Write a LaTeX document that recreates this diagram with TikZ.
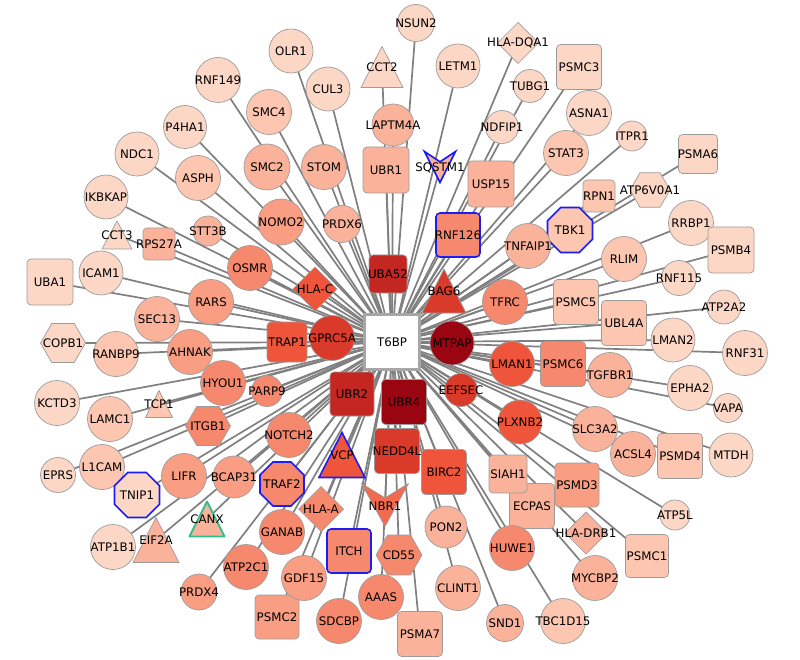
\documentclass[tikz,border=0pt]{standalone}
\usepackage{fontspec}
\setmainfont{DejaVu Sans}
\usetikzlibrary{shapes.geometric}
\definecolor{c1}{HTML}{FDD7C6}
\definecolor{c2}{HTML}{FCC6B0}
\definecolor{c3}{HTML}{FBB29A}
\definecolor{c4}{HTML}{F99E83}
\definecolor{c5}{HTML}{F6896D}
\definecolor{c6}{HTML}{F26A4F}
\definecolor{c7}{HTML}{EE553A}
\definecolor{c8}{HTML}{D93A29}
\definecolor{c9}{HTML}{C42621}
\definecolor{c10}{HTML}{990511}
\definecolor{bd}{HTML}{9C9C9C}
\definecolor{bluec}{HTML}{1C1CF5}
\definecolor{greenc}{HTML}{2EBE8A}
\definecolor{edgec}{HTML}{808080}
\pgfdeclarelayer{bg}
\pgfsetlayers{bg,main}
\newcommand\trishape[5]{\filldraw[#5] ({#1-#3/2},{#2+#4/2}) -- ({#1},{#2-#4/2}) -- ({#1+#3/2},{#2+#4/2}) -- cycle;}
\newcommand\veeshape[5]{\filldraw[#5] ({#1-#3/2},{#2-#4/2}) -- ({#1},{#2-#4/6}) -- ({#1+#3/2},{#2-#4/2}) -- ({#1},{#2+#4/2}) -- cycle;}
\begin{document}
\begin{tikzpicture}[x=1pt,y=-1pt,
  lbl/.style={font=\fontsize{11.8pt}{13pt}\selectfont, inner sep=0pt, text=black},
  base/.style={draw=bd, line width=0.7pt, inner sep=0pt, outer sep=0pt},
  circ/.style={base, circle, minimum size=#1},
  rsq/.style={base, rectangle, rounded corners=4pt, minimum size=#1},
  dia/.style={base, diamond, minimum size=#1},
  hexa/.style={base, regular polygon, regular polygon sides=6, minimum size=#1},
  octa/.style={base, regular polygon, regular polygon sides=8, minimum size=#1},
  blueb/.style={draw=bluec, line width=1.6pt},
  greenb/.style={draw=greenc, line width=1.8pt},
  shp/.style={draw=bd, line width=0.7pt, line join=round},
  edge/.style={draw=edgec, line width=1.7pt}
]
\path[use as bounding box] (0,0) rectangle (800,660);

% ---- outer ring, top ----
\node[circ=45, fill=c1, label={[lbl]center:RNF149}] (RNF149) at (218,80) {};
\node[circ=44, fill=c1, label={[lbl]center:OLR1}] (OLR1) at (291,51) {};
\node[circ=37, fill=c1, label={[lbl]center:NSUN2}] (NSUN2) at (416,23) {};
\node[circ=44, fill=c1, label={[lbl]center:LETM1}] (LETM1) at (458,66) {};
\node[dia=41, fill=c1, label={[lbl]center:HLA-DQA1}] (HLADQA1) at (518,43) {};
\node[rsq=45, fill=c1, label={[lbl]center:PSMC3}] (PSMC3) at (579,67) {};
\node[circ=44, fill=c1, label={[lbl]center:CUL3}] (CUL3) at (328,89) {};
\node[circ=33, fill=c1, label={[lbl]center:TUBG1}] (TUBG1) at (530,86) {};
\trishape{382}{67}{42}{41}{shp, fill=c1}
\node[lbl] (CCT2) at (382,67) {CCT2};
\node[circ=45, fill=c2, label={[lbl]center:SMC4}] (SMC4) at (269,112) {};
\node[circ=43, fill=c1, label={[lbl]center:P4HA1}] (P4HA1) at (185,127) {};
\node[circ=45, fill=c1, label={[lbl]center:ASNA1}] (ASNA1) at (589,113) {};
\node[circ=30, fill=c1, label={[lbl]center:ITPR1}] (ITPR1) at (632,136) {};
\node[circ=42, fill=c3, label={[lbl]center:LAPTM4A}] (LAPTM4A) at (393,125) {};
\node[circ=33, fill=c1, label={[lbl]center:NDFIP1}] (NDFIP1) at (502,127) {};
\node[circ=45, fill=c2, label={[lbl]center:STAT3}] (STAT3) at (566,153) {};
\node[rsq=39, fill=c1, label={[lbl]center:PSMA6}] (PSMA6) at (698,154) {};
\node[circ=44, fill=c1, label={[lbl]center:NDC1}] (NDC1) at (137,154) {};
\node[circ=46, fill=c3, label={[lbl]center:SMC2}] (SMC2) at (267,167) {};
\node[circ=45, fill=c3, label={[lbl]center:STOM}] (STOM) at (324,167) {};
\node[rsq=46, fill=c3, label={[lbl]center:UBR1}] (UBR1) at (386,170) {};
\veeshape{440}{167}{31}{31}{fill=c3, draw=bluec, line width=1.6pt, line join=miter}
\node[lbl] (SQSTM1) at (440,168) {SQSTM1};
\node[rsq=46, fill=c3, label={[lbl]center:USP15}] (USP15) at (491,184) {};
\node[circ=45, fill=c2, label={[lbl]center:ASPH}] (ASPH) at (198,178) {};
\node[circ=44, fill=c1, label={[lbl]center:IKBKAP}] (IKBKAP) at (106,197) {};
\node[rsq=32, fill=c2, label={[lbl]center:RPN1}] (RPN1) at (599,196) {};
\node[hexa=40, fill=c1, label={[lbl]center:ATP6V0A1}] (ATP6V0A1) at (650,190) {};
\node[circ=45, fill=c1, label={[lbl]center:RRBP1}] (RRBP1) at (691,223) {};
\node[rsq=46, fill=c1, label={[lbl]center:PSMB4}] (PSMB4) at (731,250) {};
\node[octa=48.7, fill=c2, blueb, label={[lbl]center:TBK1}] (TBK1) at (570,230) {};
\node[circ=46, fill=c4, label={[lbl]center:NOMO2}] (NOMO2) at (281,222) {};
\node[circ=37, fill=c3, label={[lbl]center:PRDX6}] (PRDX6) at (342,224) {};
\node[circ=30, fill=c3, label={[lbl]center:STT3B}] (STT3B) at (208,231) {};
\trishape{117}{235}{30}{28}{shp, fill=c1}
\node[lbl] (CCT3) at (117,235) {CCT3};
\node[rsq=32, fill=c3, label={[lbl]center:RPS27A}] (RPS27A) at (159,244) {};
\node[rsq=44, fill=c5, blueb, label={[lbl]center:RNF126}] (RNF126) at (458,235) {};
\node[circ=45, fill=c3, label={[lbl]center:TNFAIP1}] (TNFAIP1) at (528,246) {};
\node[circ=45, fill=c2, label={[lbl]center:RLIM}] (RLIM) at (624,259) {};
\node[circ=35, fill=c1, label={[lbl]center:RNF115}] (RNF115) at (679,278) {};
\node[circ=34, fill=c1, label={[lbl]center:ATP2A2}] (ATP2A2) at (724,307) {};
\node[circ=45, fill=c5, label={[lbl]center:OSMR}] (OSMR) at (250,268) {};
\node[rsq=46, fill=c1, label={[lbl]center:UBA1}] (UBA1) at (50,282) {};
\node[circ=44, fill=c1, label={[lbl]center:ICAM1}] (ICAM1) at (101,273) {};
\node[circ=45, fill=c4, label={[lbl]center:RARS}] (RARS) at (211,302) {};
\node[circ=45, fill=c3, label={[lbl]center:SEC13}] (SEC13) at (157,319) {};
\node[rsq=45, fill=c2, label={[lbl]center:PSMC5}] (PSMC5) at (576,302) {};
\node[rsq=45, fill=c2, label={[lbl]center:UBL4A}] (UBL4A) at (624,323) {};
\node[circ=44, fill=c1, label={[lbl]center:LMAN2}] (LMAN2) at (673,340) {};
\node[circ=45, fill=c1, label={[lbl]center:RNF31}] (RNF31) at (745,353) {};
\node[circ=45, fill=c3, label={[lbl]center:TGFBR1}] (TGFBR1) at (610,375) {};
\node[circ=45, fill=c1, label={[lbl]center:EPHA2}] (EPHA2) at (690,388) {};
\node[circ=29, fill=c1, label={[lbl]center:VAPA}] (VAPA) at (728,408) {};
\node[rsq=45, fill=c5, label={[lbl]center:PSMC6}] (PSMC6) at (563,364) {};
% ---- left ----
\node[hexa=45, fill=c1, label={[lbl]center:COPB1}] (COPB1) at (63,343) {};
\node[circ=45, fill=c2, label={[lbl]center:RANBP9}] (RANBP9) at (116,354) {};
\node[circ=45, fill=c4, label={[lbl]center:AHNAK}] (AHNAK) at (190,352) {};
\node[circ=45, fill=c1, label={[lbl]center:KCTD3}] (KCTD3) at (57,403) {};
\node[circ=45, fill=c2, label={[lbl]center:LAMC1}] (LAMC1) at (110,419) {};
\trishape{159}{404}{27}{27}{shp, fill=c2}
\node[lbl] (TCP1) at (159,404) {TCP1};
\node[circ=45, fill=c5, label={[lbl]center:HYOU1}] (HYOU1) at (223,383) {};
\node[circ=31, fill=c5, label={[lbl]center:PARP9}] (PARP9) at (267,391) {};
\node[hexa=45, fill=c5, label={[lbl]center:ITGB1}] (ITGB1) at (208,426) {};
\node[circ=45, fill=c2, label={[lbl]center:L1CAM}] (L1CAM) at (102,467) {};
\node[circ=35, fill=c1, label={[lbl]center:EPRS}] (EPRS) at (58,475) {};
\node[octa=48.7, fill=c1, blueb, label={[lbl]center:TNIP1}] (TNIP1) at (137,495) {};
\node[circ=45, fill=c4, label={[lbl]center:LIFR}] (LIFR) at (184,476) {};
\node[circ=42, fill=c4, label={[lbl]center:BCAP31}] (BCAP31) at (234,477) {};
\node[circ=45, fill=c1, label={[lbl]center:ATP1B1}] (ATP1B1) at (113,547) {};
\trishape{156}{540}{46}{45}{shp, fill=c3}
\node[lbl] (EIF2A) at (156,540) {EIF2A};
\trishape{207}{519}{35}{35}{fill=c3, draw=greenc, line width=1.8pt, line join=round}
\node[lbl] (CANX) at (207,519) {CANX};
\node[circ=36, fill=c4, label={[lbl]center:PRDX4}] (PRDX4) at (199,592) {};
\node[circ=45, fill=c5, label={[lbl]center:ATP2C1}] (ATP2C1) at (246,567) {};
% ---- bottom ----
\node[rsq=44, fill=c4, label={[lbl]center:PSMC2}] (PSMC2) at (277,617) {};
\node[circ=45, fill=c4, label={[lbl]center:GDF15}] (GDF15) at (304,578) {};
\node[circ=45, fill=c5, label={[lbl]center:SDCBP}] (SDCBP) at (339,621) {};
\node[circ=45, fill=c5, label={[lbl]center:AAAS}] (AAAS) at (381,597) {};
\node[rsq=45, fill=c3, label={[lbl]center:PSMA7}] (PSMA7) at (420,634) {};
\node[circ=45, fill=c3, label={[lbl]center:CLINT1}] (CLINT1) at (458,588) {};
\node[circ=37, fill=c3, label={[lbl]center:SND1}] (SND1) at (505,623) {};
\node[circ=45, fill=c2, label={[lbl]center:TBC1D15}] (TBC1D15) at (563,621) {};
\node[circ=45, fill=c3, label={[lbl]center:MYCBP2}] (MYCBP2) at (595,578) {};
\node[rsq=43, fill=c2, label={[lbl]center:PSMC1}] (PSMC1) at (647,556) {};
\node[circ=30, fill=c1, label={[lbl]center:ATP5L}] (ATP5L) at (675,515) {};
\node[rsq=45, fill=c3, label={[lbl]center:ECPAS}] (ECPAS) at (532,506) {};
\node[dia=42, fill=c3, label={[lbl]center:HLA-DRB1}] (HLADRB1) at (586,533) {};
\node[rsq=44, fill=c4, label={[lbl]center:PSMD3}] (PSMD3) at (577,485) {};
\node[circ=45, fill=c3, label={[lbl]center:ACSL4}] (ACSL4) at (633,454) {};
\node[rsq=45, fill=c2, label={[lbl]center:PSMD4}] (PSMD4) at (680,456) {};
\node[circ=44, fill=c1, label={[lbl]center:MTDH}] (MTDH) at (731,455) {};
\node[circ=45, fill=c3, label={[lbl]center:SLC3A2}] (SLC3A2) at (595,429) {};
\node[rsq=38, fill=c3, label={[lbl]center:SIAH1}] (SIAH1) at (508,474) {};
\node[circ=45, fill=c5, label={[lbl]center:HUWE1}] (HUWE1) at (512,548) {};
\node[circ=42, fill=c3, label={[lbl]center:PON2}] (PON2) at (446,527) {};
\node[circ=45, fill=c5, label={[lbl]center:GANAB}] (GANAB) at (282,532) {};
\node[rsq=44, fill=c5, blueb, label={[lbl]center:ITCH}] (ITCH) at (349,551) {};
\node[hexa=46, fill=c5, label={[lbl]center:CD55}] (CD55) at (399,555) {};
\node[dia=45, fill=c5, label={[lbl]center:HLA-A}] (HLAA) at (321,509) {};
\node[octa=47.6, fill=c5, blueb, label={[lbl]center:TRAF2}] (TRAF2) at (282,484) {};
\node[circ=45, fill=c5, label={[lbl]center:NOTCH2}] (NOTCH2) at (289,435) {};
\veeshape{385}{505}{47}{43}{shp, fill=c6}
\node[lbl] (NBR1) at (385,506) {NBR1};
% ---- inner ring ----
\node[circ=45, fill=c5, label={[lbl]center:TFRC}] (TFRC) at (505,302) {};
\node[dia=44, fill=c7, label={[lbl]center:HLA-C}] (HLAC) at (315,289) {};
\node[rsq=38, fill=c9, label={[lbl]center:UBA52}] (UBA52) at (388,274) {};
\trishape{444}{291}{44}{44}{shp, fill=c8}
\node[lbl] (BAG6) at (444,291) {BAG6};
\node[rsq=40, fill=c7, label={[lbl]center:TRAP1}] (TRAP1) at (287,342) {};
\node[circ=45, fill=c8, label={[lbl]center:GPRC5A}] (GPRC5A) at (332,338) {};
\node[circ=44, fill=c10, label={[lbl]center:MTPAP}] (MTPAP) at (452,343) {};
\node[circ=45, fill=c7, label={[lbl]center:LMAN1}] (LMAN1) at (512,364) {};
\node[circ=33, fill=c8, label={[lbl]center:EEFSEC}] (EEFSEC) at (461,390) {};
\node[circ=44, fill=c7, label={[lbl]center:PLXNB2}] (PLXNB2) at (520,422) {};
\node[rsq=44, fill=c9, label={[lbl]center:UBR2}] (UBR2) at (352,394) {};
\node[rsq=45, fill=c10, label={[lbl]center:UBR4}] (UBR4) at (404,402) {};
\node[rsq=45, fill=c8, label={[lbl]center:NEDD4L}] (NEDD4L) at (397,451) {};
\node[rsq=45, fill=c7, label={[lbl]center:BIRC2}] (BIRC2) at (444,472) {};
\trishape{342}{455}{46}{45}{fill=c7, draw=bluec, line width=1.6pt, line join=miter}
\node[lbl] (VCP) at (342,455) {VCP};
\node[rectangle, draw=black!35, line width=2.5pt, fill=white, minimum size=55, inner sep=0pt, label={[lbl]center:T6BP}] (T6BP) at (392,342) {};

\begin{pgfonlayer}{bg}
\fill[white] (0,0) rectangle (800,660);
\foreach \n in {RNF149,OLR1,NSUN2,LETM1,HLADQA1,PSMC3,CUL3,TUBG1,CCT2,SMC4,P4HA1,ASNA1,ITPR1,LAPTM4A,NDFIP1,STAT3,PSMA6,NDC1,SMC2,STOM,UBR1,SQSTM1,USP15,ASPH,IKBKAP,RPN1,ATP6V0A1,RRBP1,PSMB4,TBK1,NOMO2,PRDX6,STT3B,CCT3,RPS27A,RNF126,TNFAIP1,RLIM,RNF115,ATP2A2,OSMR,UBA1,ICAM1,RARS,SEC13,PSMC5,UBL4A,LMAN2,RNF31,TGFBR1,EPHA2,VAPA,PSMC6,COPB1,RANBP9,AHNAK,KCTD3,LAMC1,TCP1,HYOU1,PARP9,ITGB1,L1CAM,EPRS,TNIP1,LIFR,BCAP31,ATP1B1,EIF2A,CANX,PRDX4,ATP2C1,PSMC2,GDF15,SDCBP,AAAS,PSMA7,CLINT1,SND1,TBC1D15,MYCBP2,PSMC1,ATP5L,ECPAS,HLADRB1,PSMD3,ACSL4,PSMD4,MTDH,SLC3A2,SIAH1,HUWE1,PON2,GANAB,ITCH,CD55,HLAA,TRAF2,NOTCH2,NBR1,TFRC,HLAC,UBA52,BAG6,TRAP1,GPRC5A,MTPAP,LMAN1,EEFSEC,PLXNB2,UBR2,UBR4,NEDD4L,BIRC2,VCP}
  \draw[edge] (T6BP.center) -- (\n.center);
\end{pgfonlayer}
\end{tikzpicture}
\end{document}
